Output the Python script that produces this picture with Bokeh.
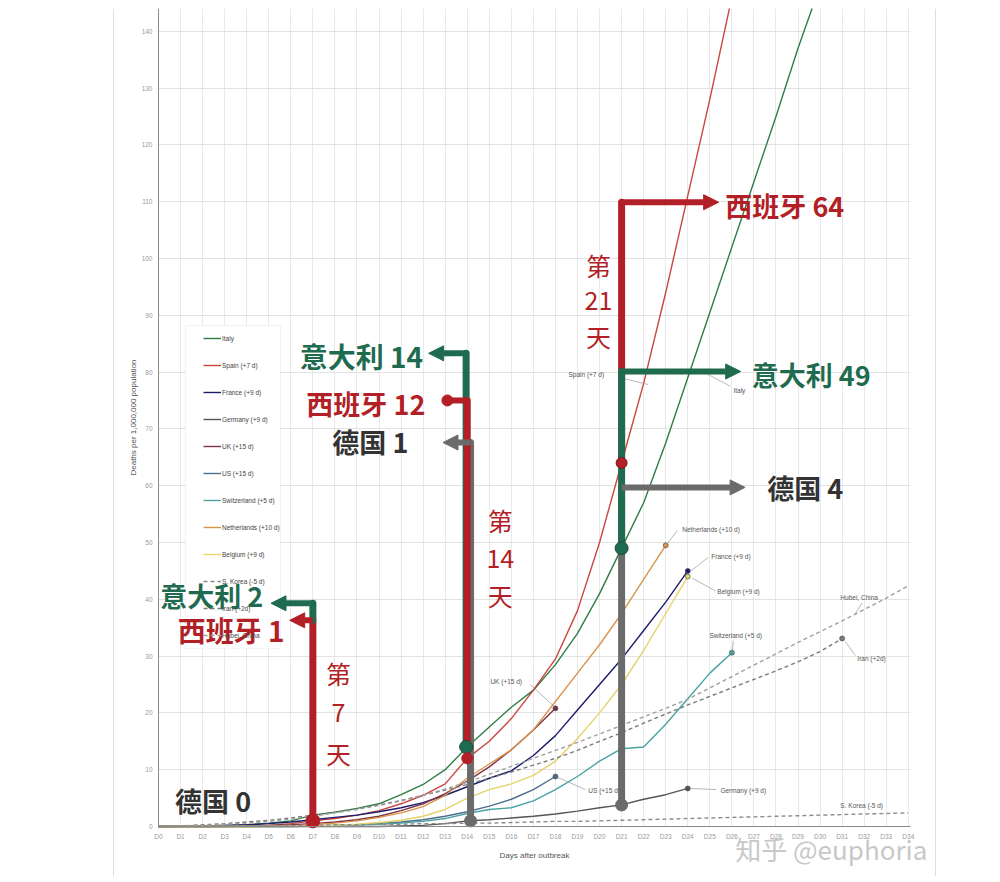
from bokeh.plotting import figure
from bokeh.models import (Range1d, FixedTicker, Legend, LegendItem, Arrow, NormalHead,
                          Label, BoxAnnotation, Span)
from bokeh.embed import file_html
from bokeh.resources import INLINE
from bokeh.core.properties import value

# ---------------- data ----------------
day_labels = [f"D{i}" for i in range(35)]
y_ticks = [0, 10, 20, 30, 40, 50, 60, 70, 80, 90, 100, 110, 120, 130, 140]

italy = [0, 0.05, 0.1, 0.2, 0.3, 0.6, 1.0, 2.0, 2.5, 3.2, 4.0, 5.6, 7.4, 10.0, 14.0,
         17.5, 21.0, 24.0, 28.5, 34.0, 41.0, 49.0, 57.0, 67.5, 79.0, 90.5, 102.0,
         113.5, 125.0, 137.0, 148.0]
spain = [0, 0, 0, 0.05, 0.1, 0.2, 0.5, 1.0, 1.4, 2.0, 2.8, 4.0, 5.5, 7.5, 12.0,
         15.0, 19.0, 24.0, 29.5, 38.0, 50.0, 64.0, 78.0, 94.0, 111.0, 128.0, 146.0]
france = [0, 0.05, 0.1, 0.2, 0.3, 0.5, 0.8, 1.2, 1.6, 2.0, 2.6, 3.3, 4.2, 5.5, 7.0,
          8.5, 9.8, 12.5, 16.0, 20.5, 25.0, 29.5, 34.5, 39.5, 45.0]
germany = [0, 0, 0, 0, 0, 0, 0, 0, 0, 0, 0, 0.1, 0.2, 0.5, 1.0, 1.2, 1.5, 1.8, 2.2,
           2.7, 3.3, 3.8, 4.8, 5.6, 6.7]
uk = [0, 0, 0, 0, 0.1, 0.2, 0.3, 0.5, 0.8, 1.2, 1.8, 2.8, 4.0, 5.8, 8.0, 10.5, 13.5,
      17.0, 20.8]
us = [0, 0, 0, 0, 0, 0, 0, 0.1, 0.2, 0.3, 0.5, 0.8, 1.2, 1.8, 2.6, 3.6, 4.8, 6.5, 8.8]
switzerland = [0, 0, 0, 0, 0, 0, 0.05, 0.1, 0.2, 0.3, 0.4, 0.6, 0.9, 1.4, 2.3, 3.0,
               3.3, 4.5, 6.5, 8.8, 11.5, 13.7, 14.0, 18.0, 22.5, 27.0, 30.6]
netherlands = [0, 0, 0, 0, 0, 0.05, 0.1, 0.3, 0.6, 1.0, 1.6, 2.4, 3.5, 5.5, 8.5, 11.0,
               13.5, 17.0, 22.0, 27.0, 32.0, 37.5, 43.5, 49.5]
belgium = [0, 0, 0, 0, 0, 0, 0.05, 0.1, 0.2, 0.4, 0.7, 1.1, 1.8, 3.0, 5.0, 6.5, 7.5,
           9.0, 11.5, 15.5, 20.0, 25.0, 31.0, 37.5, 44.0]
s_korea = [0, 0, 0, 0.05, 0.1, 0.1, 0.2, 0.2, 0.3, 0.3, 0.4, 0.4, 0.5, 0.5, 0.6, 0.6,
           0.7, 0.8, 0.9, 0.9, 1.0, 1.1, 1.2, 1.3, 1.4, 1.5, 1.6, 1.7, 1.8, 1.9, 2.0,
           2.1, 2.2, 2.3, 2.4]
iran = [0, 0.1, 0.3, 0.5, 0.8, 1.1, 1.5, 2.0, 2.5, 3.1, 3.8, 4.6, 5.5, 6.4, 7.4, 8.5,
        9.6, 10.8, 12.0, 13.4, 15.0, 16.5, 18.2, 19.8, 21.4, 22.9, 24.4, 25.9, 27.4,
        29.0, 30.8, 33.1]
hubei = [0, 0.1, 0.2, 0.4, 0.6, 0.9, 1.3, 1.8, 2.4, 3.0, 3.7, 4.5, 5.5, 6.6, 7.8, 9.2,
         10.6, 12.0, 13.4, 14.8, 16.3, 17.8, 19.3, 20.8, 22.4, 24.4, 26.4, 28.4, 30.4,
         32.4, 34.3, 36.2, 38.2, 40.2, 42.4]

series_names = ["Italy", "Spain (+7 d)", "France (+9 d)", "Germany (+9 d)", "UK (+15 d)",
                "US (+15 d)", "Switzerland (+5 d)", "Netherlands (+10 d)", "Belgium (+9 d)",
                "S. Korea (-5 d)", "Iran (+2d)", "Hubei, China"]
series_values = [italy, spain, france, germany, uk, us, switzerland, netherlands, belgium,
                 s_korea, iran, hubei]

# ---------------- styles ----------------
colors = ["#2f7d45", "#c9463d", "#1b1d6b", "#555555", "#7d3346", "#4d6f8c", "#4aa3a3",
          "#d9944c", "#e6d36a", "#8c8c8c", "#7a7a7a", "#a0a0a0"]
dashes = ["solid"] * 9 + ["4 3", "4 3", "4 3"]
has_end_dot = [False, False, True, True, True, True, True, True, True, False, True, False]

GREEN = "#1f6b4f"
RED = "#b21f26"
GRAY = "#6b6b6b"
DARK = "#333333"
CJK = "Noto Sans CJK SC"
LAT = "Liberation Sans"

X_END = 34.1
PX = 752 / X_END          # pixels per day
# frame is wider/taller than the chart area; both axes are pinned at 0
p = figure(width=992, height=876, output_backend="svg", toolbar_location=None,
           x_range=Range1d(-48 / PX, X_END + 30 / PX), y_range=Range1d(-8.8, 144),
           min_border_left=110, min_border_right=52, min_border_top=8,
           min_border_bottom=0)
p.outline_line_color = None
p.background_fill_color = "white"

# axes
p.xaxis.fixed_location = 0
p.yaxis.fixed_location = 0
p.yaxis.bounds = (0, 144)
p.xaxis.bounds = (0, X_END)
p.xaxis.ticker = FixedTicker(ticks=list(range(len(day_labels))))
p.xaxis.major_label_overrides = {i: lab for i, lab in enumerate(day_labels)}
p.yaxis.ticker = FixedTicker(ticks=y_ticks)
for ax in (p.xaxis, p.yaxis):
    ax.major_tick_line_color = None
    ax.minor_tick_line_color = None
    ax.major_tick_out = 0
    ax.major_tick_in = 0
    ax.minor_tick_out = 0
    ax.minor_tick_in = 0
    ax.axis_line_color = "#8a8a8a"
    ax.major_label_text_font = LAT
    ax.major_label_text_font_size = "6.5px"
    ax.major_label_text_color = "#9a9a9a"
    ax.axis_label_text_font = LAT
    ax.axis_label_text_font_size = "8px"
    ax.axis_label_text_font_style = "normal"
    ax.axis_label_text_color = "#555555"
p.xaxis.major_label_standoff = 6
p.yaxis.major_label_standoff = 6
p.xaxis.axis_label = "Days after outbreak"
p.yaxis.axis_label = "Deaths per 1,000,000 population"
p.xaxis.axis_label_standoff = 8
p.yaxis.axis_label_standoff = 1

p.xgrid.ticker = FixedTicker(ticks=list(range(len(day_labels))))
p.ygrid.ticker = FixedTicker(ticks=y_ticks)
p.xgrid.grid_line_color = "#e9e9e9"
p.ygrid.grid_line_color = "#e2e2e2"

# white bands outside the chart area hide the grid there
for kw in (dict(top=0), dict(right=0), dict(left=X_END)):
    p.add_layout(BoxAnnotation(fill_color="white", fill_alpha=1.0, line_color=None,
                               level="underlay", **kw))
# faint page borders of the screenshot
for loc in (-45 / PX, 777 / PX):
    p.add_layout(Span(location=loc, dimension="height", line_color="#dedede",
                      line_width=1, level="underlay"))

# ---------------- series ----------------
legend_items = []
for name, vals, col, dash, dot in zip(series_names, series_values, colors, dashes, has_end_dot):
    xs = list(range(len(vals)))
    lr = p.line(xs, vals, line_color=col, line_width=1.4, line_dash=dash)
    dummy = p.scatter(x=[], y=[], size=4, marker="circle", fill_color=col, line_color=col)
    legend_items.append(LegendItem(label=name, renderers=[lr, dummy]))
    if dot:
        p.scatter([xs[-1]], [vals[-1]], size=5, marker="circle", fill_color=col,
                  line_color="#444444", line_width=0.6)

# series labels with leader lines
lab_text = ["Italy", "Spain (+7 d)", "Netherlands (+10 d)", "France (+9 d)", "Belgium (+9 d)",
            "Switzerland (+5 d)", "Hubei, China", "Iran (+2d)", "UK (+15 d)", "US (+15 d)",
            "Germany (+9 d)", "S. Korea (-5 d)"]
lab_x = [26.07, 18.59, 23.75, 25.07, 25.34, 24.98, 30.92, 31.69, 15.05, 19.49, 25.48, 30.92]
lab_y = [76.8, 79.6, 52.3, 47.5, 41.4, 33.6, 40.3, 29.6, 25.5, 6.3, 6.3, 3.7]
p.text(lab_x, lab_y, text=lab_text, text_font=value(LAT), text_font_size="6.5px",
       text_color="#555555", text_baseline="middle", text_align="left")
lead_x0 = [24.57, 20.94, 23.53, 24.93, 25.25, 26.07, 31.91, 31.60, 16.86, 19.36, 25.29]
lead_y0 = [80.3, 79.0, 52.1, 47.4, 41.5, 32.7, 39.4, 30.1, 25.0, 6.5, 6.5]
lead_x1 = [25.93, 22.21, 23.07, 24.12, 24.21, 26.02, 31.60, 31.14, 17.95, 18.13, 24.12]
lead_y1 = [77.5, 77.8, 49.8, 44.9, 43.7, 31.0, 37.5, 32.6, 21.1, 8.6, 6.7]
p.segment(lead_x0, lead_y0, lead_x1, lead_y1, line_color="#9a9a9a", line_width=0.7)

# ---------------- legend box ----------------
box = BoxAnnotation(left=1.22, right=5.53, bottom=31.3, top=88.2, fill_color="white",
                    fill_alpha=1.0, line_color="#cfcfcf", line_width=1)
p.add_layout(box)
legend = Legend(items=legend_items, location=(45 + 48, 181 + 50), orientation="vertical",
                label_text_font=LAT, label_text_font_size="6.5px",
                label_text_color="#444444", glyph_width=18, glyph_height=20,
                label_height=20, label_width=60, spacing=7, padding=0, margin=0,
                label_standoff=1, background_fill_alpha=0, border_line_color=None)
p.add_layout(legend, "center")

# ---------------- annotation bars (day 7, 14, 21) ----------------
def bar(x, y0, y1, col):
    p.segment([x], [y0], [x], [y1], line_color=col, line_width=7, line_cap="round")

def arrow(x0, y0, x1, col):
    p.add_layout(Arrow(end=NormalHead(size=15, fill_color=col, line_color=col, line_width=1),
                       x_start=x0, y_start=y0, x_end=x1, y_end=y0,
                       line_color=col, line_width=6))

def big(x, y, text, col, align, size="27px"):
    p.add_layout(Label(x=x, y=y, text=text, text_font=CJK, text_font_size=size,
                       text_font_style="bold", text_color=col, text_align=align,
                       text_baseline="middle"))

def vert(x, ys, texts):
    for yy, t in zip(ys, texts):
        p.add_layout(Label(x=x, y=yy, text=t, text_font=CJK, text_font_size="25px",
                           text_color=RED, text_align="center", text_baseline="middle"))

# Day 7
bar(7, spain[7], 36.3, RED)
bar(7, 36.3, 39.3, GREEN)
arrow(7, 39.3, 5.1, GREEN)
arrow(7, 36.3, 5.95, RED)
p.scatter([7], [spain[7]], size=14, fill_color=RED, line_color=RED)
big(4.75, 40.6, "意大利 2", GREEN, "right")
big(5.72, 34.6, "西班牙 1", RED, "right", "28px")
big(0.75, 4.6, "德国 0", DARK, "left")
vert(8.16, [27.1, 20.1, 13.0], ["第", "7", "天"])

# Day 14
bar(14.15, germany[14], 67.6, GRAY)
bar(13.95, italy[14], 83.3, GREEN)
bar(14.0, spain[14], 75.0, RED)
arrow(14.15, 67.6, 12.9, GRAY)
arrow(13.95, 83.3, 12.25, GREEN)
p.segment([14.0], [75.0], [13.1], [75.0], line_color=RED, line_width=6)
p.scatter([13.1], [75.0], size=11, fill_color=RED, line_color=RED)
p.scatter([13.95], [italy[14]], size=13, fill_color=GREEN, line_color="#2a4a3a")
p.scatter([14.0], [spain[14]], size=11, fill_color=RED, line_color=RED)
p.scatter([14.15], [germany[14]], size=12, fill_color=GRAY, line_color=GRAY)
big(11.33, 67.8, "德国 1", DARK, "right")
big(12.0, 82.8, "意大利 14", GREEN, "right", "28px")
big(12.1, 74.5, "西班牙 12", RED, "right")
vert(15.5, [53.9, 47.2, 40.7], ["第", "14", "天"])

# Day 21
bar(21, spain[21], 109.9, RED)
bar(21, germany[21], 59.7, GRAY)
bar(21, italy[21], 80.1, GREEN)
arrow(21, 109.9, 25.4, RED)
arrow(21, 59.7, 26.6, GRAY)
arrow(21, 80.1, 26.4, GREEN)
p.scatter([21], [spain[21]], size=11, fill_color=RED, line_color="#7a1a1a")
p.scatter([21], [italy[21]], size=13, fill_color=GREEN, line_color="#2a4a3a")
p.scatter([21], [germany[21]], size=12, fill_color=GRAY, line_color=GRAY)
big(25.7, 109.4, "西班牙 64", RED, "left")
big(26.9, 79.6, "意大利 49", GREEN, "left")
big(27.6, 59.7, "德国 4", DARK, "left")
vert(19.95, [98.8, 92.6, 86.4], ["第", "21", "天"])

# watermark
p.add_layout(Label(x=26.15, y=-3.9, text="知乎 @euphoria", text_font=CJK,
                   text_font_size="26px", text_color="#c8c8c8", text_align="left",
                   text_baseline="middle"))

open("out.html", "w").write(file_html(p, INLINE))
